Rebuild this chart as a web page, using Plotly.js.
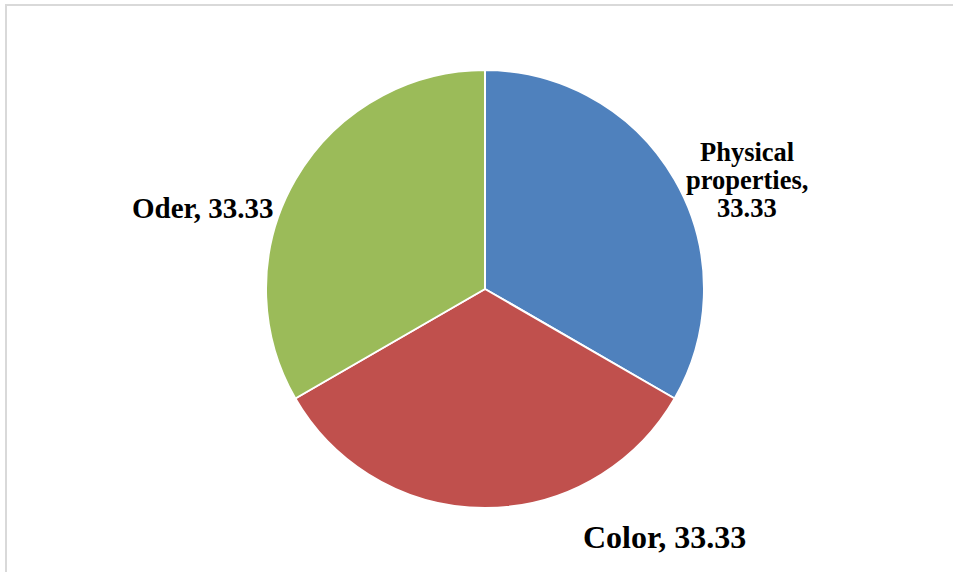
<!DOCTYPE html>
<html>
<head>
<meta charset="utf-8">
<script src="https://cdn.plot.ly/plotly-3.0.1.min.js"></script>
<style>
  html, body { margin: 0; padding: 0; background: #ffffff; overflow: hidden; }
  #wrap { position: relative; width: 953px; height: 572px; }
  #chart { width: 953px; height: 572px; }
  #frame { position: absolute; left: 5px; top: 4px; width: 960px; height: 580px;
           border-left: 2px solid #d9d9d9; border-top: 2px solid #d9d9d9; pointer-events: none; }
</style>
</head>
<body>
<div id="wrap">
  <div id="chart"></div>
  <div id="frame"></div>
</div>
<script>
// ---- data ----
const categories = ["Physical properties", "Color", "Oder"];
const values = [33.33, 33.33, 33.33];
const sliceColors = ["#4F81BD", "#C0504D", "#9BBB59"];

// ---- label layout (styling only) ----
const labelLines = [
  ["Physical", "properties,", "%V"],
  ["%L, %V"],
  ["%L, %V"]
];
const labelCenters = [[747, 180], [664, 537], [203, 208]]; // pixel centres of label blocks
const labelSizes = [26.5, 32, 29];
const lineGap = 28;

const W = 953, H = 572;
const M = {l: 100, r: 83, t: 70, b: 64};
const px = x => (x - M.l) / (W - M.l - M.r);
const py = y => 1 - (y - M.t) / (H - M.t - M.b);

const annotations = [];
categories.forEach((cat, i) => {
  const lines = labelLines[i].map(s => s.replace("%L", cat).replace("%V", values[i].toFixed(2)));
  const n = lines.length;
  lines.forEach((txt, k) => {
    const yy = labelCenters[i][1] + (k - (n - 1) / 2) * lineGap;
    annotations.push({
      text: txt, showarrow: false,
      xref: "paper", yref: "paper",
      x: px(labelCenters[i][0]), y: py(yy),
      xanchor: "center", yanchor: "middle",
      font: {family: "Liberation Serif, Times New Roman, serif", size: labelSizes[i], color: "#000000", weight: "bold"}
    });
  });
});

const trace = {
  type: "pie",
  labels: categories,
  values: values,
  sort: false,
  direction: "clockwise",
  rotation: 0,
  textinfo: "none",
  hoverinfo: "label+value",
  marker: {colors: sliceColors, line: {color: "#ffffff", width: 2}},
  showlegend: false
};

const layout = {
  width: W, height: H,
  margin: M,
  paper_bgcolor: "#ffffff",
  plot_bgcolor: "#ffffff",
  showlegend: false,
  annotations: annotations
};

Plotly.newPlot("chart", [trace], layout, {displayModeBar: false, staticPlot: true});
</script>
</body>
</html>
